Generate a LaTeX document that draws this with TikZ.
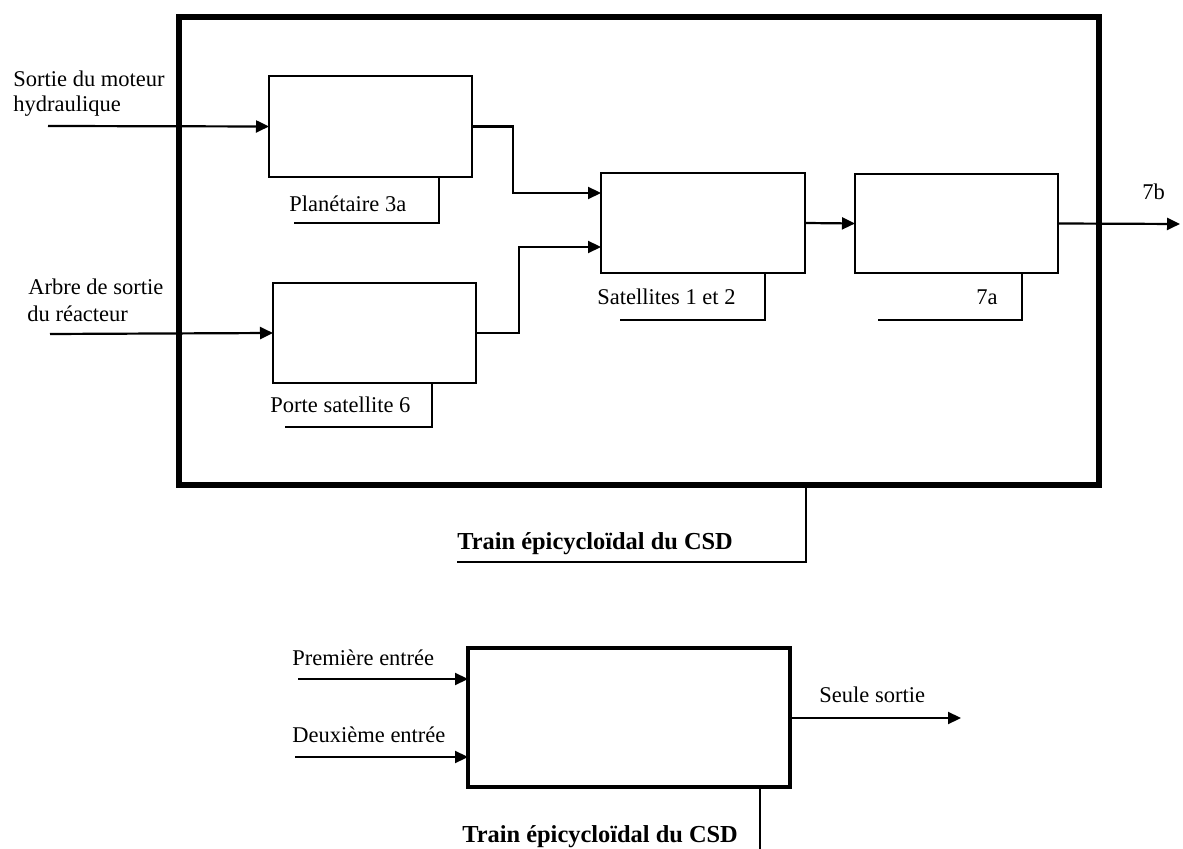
\documentclass[tikz,border=0pt]{standalone}
\usepackage{fontspec}
\setmainfont{Liberation Serif}
\usetikzlibrary{arrows.meta}
\begin{document}
\begin{tikzpicture}[x=0.5pt,y=-0.5pt,
  blk/.style={draw, line width=1.1pt, inner sep=0pt, outer sep=0pt, rectangle},
  conn/.style={line width=1.1pt, -{Triangle[length=6.5pt,width=6pt]}},
  lead/.style={line width=1pt},
  lbl/.style={font=\fontsize{11.25}{13}\selectfont, inner sep=0pt, anchor=base west},
  blbl/.style={font=\bfseries\fontsize{12.2}{14}\selectfont, inner sep=0pt, anchor=base west}]

\useasboundingbox (0,0) rectangle (1183,849);

% outer frame
\node[blk, line width=2.8pt, minimum width=460pt, minimum height=234pt] (big) at (639,251) {};

% inner blocks
\node[blk, minimum width=101.5pt, minimum height=50.5pt] (A) at (370.5,126.5) {};
\node[blk, minimum width=101.5pt, minimum height=50pt] (B) at (374.5,333) {};
\node[blk, minimum width=102pt, minimum height=50pt] (C) at (703,223) {};
\node[blk, minimum width=101.5pt, minimum height=49.5pt] (D) at (956.5,223.5) {};

% inputs
\coordinate (i1) at (48,126);
\coordinate (i2) at (50,334);
\draw[conn] (i1) -- (A.west);
\draw[conn] (i2) -- (B.west);
\node[lbl] (t1) at (13,87) {Sortie du moteur};
\node[lbl] (t2) at (13,112) {hydraulique};
\node[lbl] (t3) at (28,295) {Arbre de sortie};
\node[lbl] (t4) at (27,322) {du réacteur};

% internal connectors
\draw[conn] (A.east) -| (513,193) -- (C.west |- 0,193);
\draw[conn] (B.east) -| (519,247) -- (C.west |- 0,247);
\draw[conn] (C.east) -- (D.west);
\coordinate (o7b) at (1180,224);
\draw[conn] (D.east) -- (o7b);
\node[lbl] (t7b) at (1142,200) {7b};

% block labels with leaders
\node[lbl] (lA) at (289,212) {Planétaire 3a};
\coordinate (kA) at (439,223); \coordinate (eA) at (294,223);
\draw[lead] (A.south -| kA) -- (kA) -- (eA);

\node[lbl] (lB) at (270,413) {Porte satellite 6};
\coordinate (kB) at (432,427); \coordinate (eB) at (285,427);
\draw[lead] (B.south -| kB) -- (kB) -- (eB);

\node[lbl] (lC) at (597,305) {Satellites 1 et 2};
\coordinate (kC) at (765,320); \coordinate (eC) at (620,320);
\draw[lead] (C.south -| kC) -- (kC) -- (eC);

\node[lbl] (lD) at (976,305) {7a};
\coordinate (kD) at (1022,320); \coordinate (eD) at (878,320);
\draw[lead] (D.south -| kD) -- (kD) -- (eD);

% frame label
\node[blbl] (lbig) at (457,550) {Train épicycloïdal du CSD};
\coordinate (kbig) at (806,562); \coordinate (ebig) at (457,562);
\draw[lead] (big.south -| kbig) -- (kbig) -- (ebig);

% bottom summary block
\node[blk, line width=1.8pt, minimum width=161pt, minimum height=69.5pt] (E) at (629,717.5) {};
\coordinate (j1) at (298,679);
\coordinate (j2) at (295,757);
\draw[conn] (j1) -- (E.west |- j1);
\draw[conn] (j2) -- (E.west |- j2);
\node[lbl] (u1) at (292,665) {Première entrée};
\node[lbl] (u2) at (292,742) {Deuxième entrée};
\coordinate (so) at (961,718);
\draw[conn] (E.east |- so) -- (so);
\node[lbl] (u3) at (819,702) {Seule sortie};
\node[blbl] (lE) at (462,842) {Train épicycloïdal du CSD};
\coordinate (kE) at (760,849);
\draw[lead] (E.south -| kE) -- (kE);
\end{tikzpicture}
\end{document}
